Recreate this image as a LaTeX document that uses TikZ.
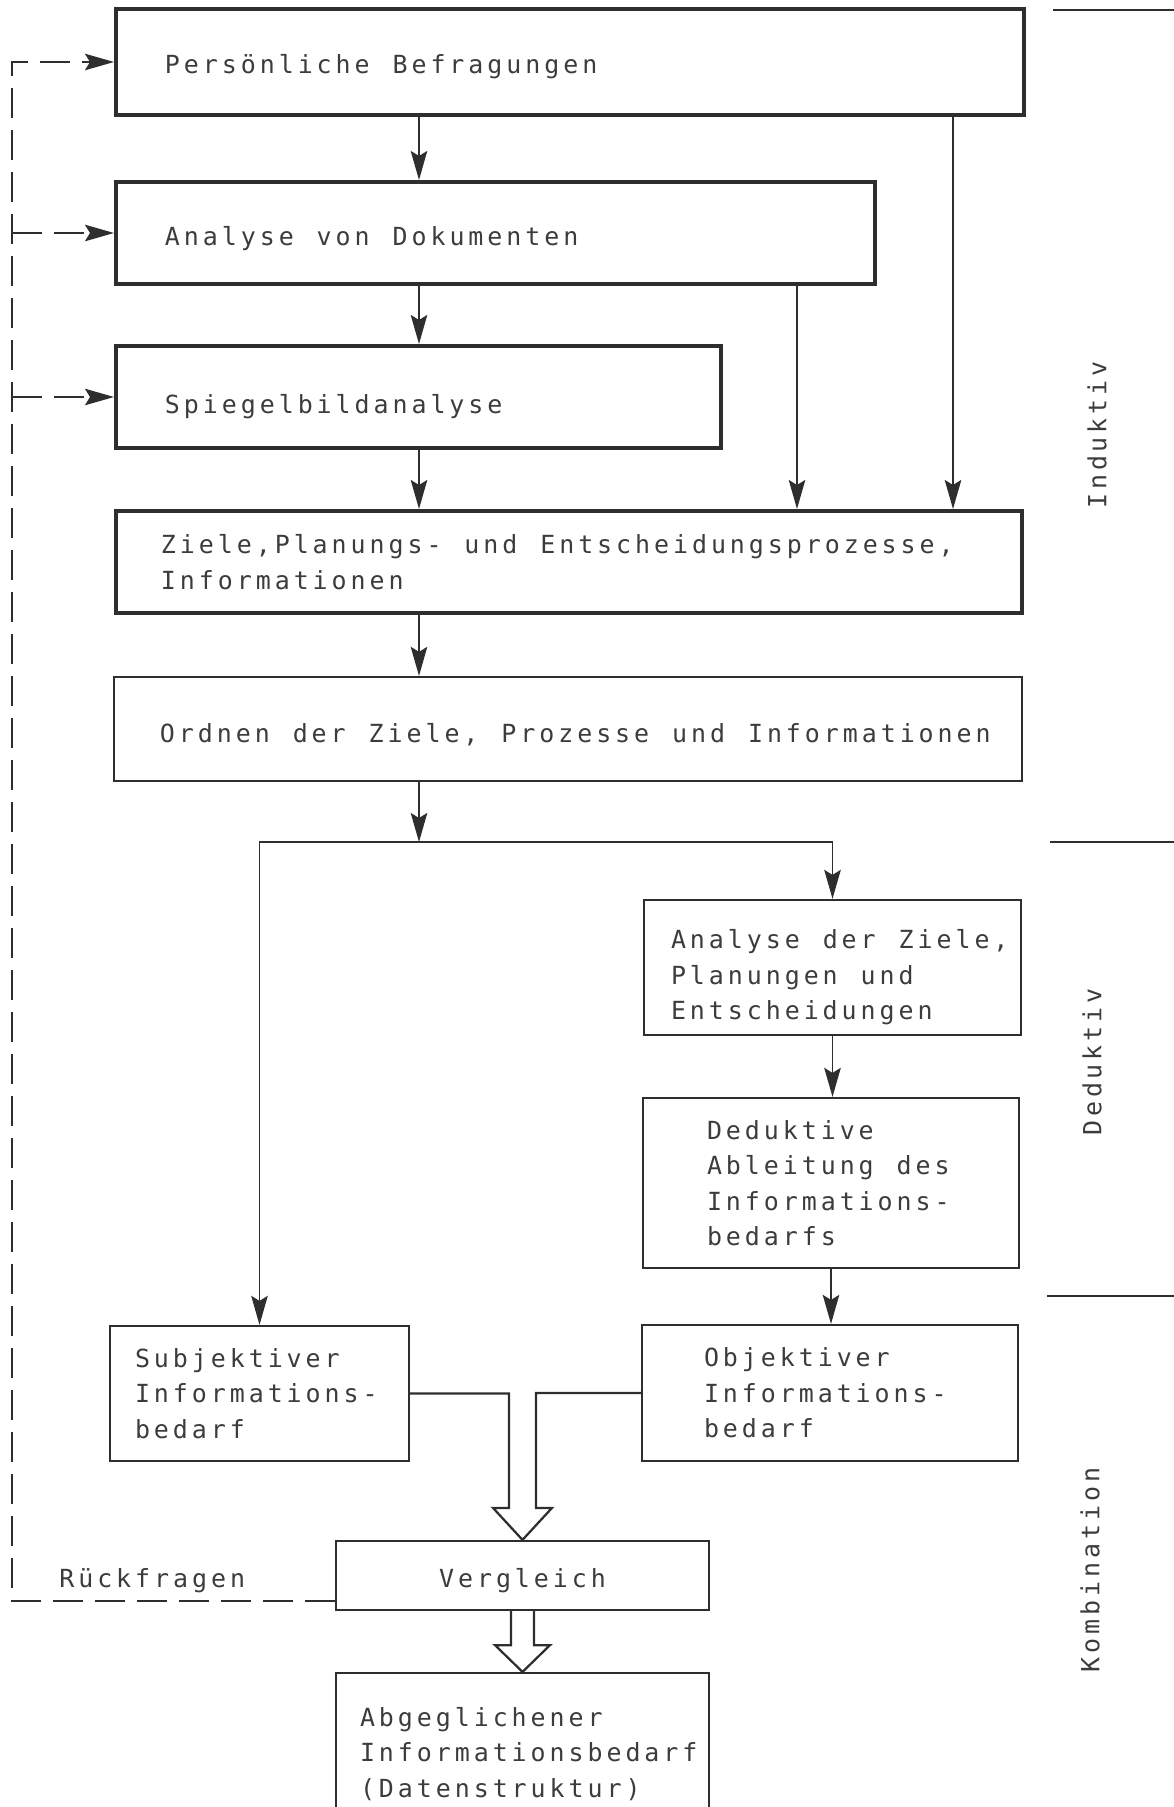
\documentclass[tikz,border=0pt]{standalone}
\usepackage{fontspec}
\newfontfamily\scanfont[LetterSpace=15.8,HyphenChar=None]{DejaVu Sans Mono}
\newcommand\gap{\hspace*{13.05pt}}
\usetikzlibrary{arrows.meta,calc}
\definecolor{ink}{HTML}{2E2E2E}
\definecolor{inktext}{HTML}{3C3C3C}

\begin{document}
\begin{tikzpicture}[x=0.2mm,y=-0.2mm,
  every node/.style={text=inktext,font={\fontsize{14.2pt}{20.2pt}\selectfont\scanfont}},
  thickbox/.style={draw=ink,line width=0.8mm,align=left,inner ysep=0pt},
  thinbox/.style={draw=ink,line width=0.45mm,align=left,inner ysep=0pt},
  flow/.style={draw=ink,line width=0.36mm,-{Stealth[length=5.8mm,width=3.3mm,inset=1mm]}},
  back/.style={flow,dash pattern=on 6mm off 2.4mm},
  hollow/.style={draw=ink,line width=0.45mm,line join=miter},
  rule/.style={draw=ink,line width=0.4mm},
  side/.style={rotate=90,inner sep=0pt}]
\useasboundingbox (0,0) rectangle (1174,1807);
\clip (0,0) rectangle (1174,1807);

% induktive Schritte
\node[thickbox,minimum width=181.6mm,minimum height=21.2mm,inner xsep=9.8mm,text width=162mm,text height=16.4pt,text depth=3.3pt] (pers) at (570,62) {Persönliche\gap Befragungen};
\node[thickbox,minimum width=151.8mm,minimum height=20.4mm,inner xsep=9.8mm,text width=132.2mm,text height=17.5pt,text depth=3.3pt] (dok) at (495.5,233) {Analyse\gap von\gap Dokumenten};
\node[thickbox,minimum width=121mm,minimum height=20.4mm,inner xsep=9.8mm,text width=101.4mm,text height=22pt,text depth=3.3pt] (spb) at (418.5,397) {Spiegelbildanalyse};
\node[thickbox,minimum width=181.2mm,minimum height=20.4mm,inner xsep=9mm,text width=163.2mm] (ziele) at (569,562) {Ziele,Planungs-\gap und\gap Entscheidungsprozesse,\\Informationen};
\node[thinbox,minimum width=181.6mm,minimum height=20.8mm,inner xsep=9.2mm,text width=163.2mm,text height=18.7pt,text depth=3.3pt] (ordnen) at (568,729) {Ordnen\gap der\gap Ziele,\gap Prozesse\gap und\gap Informationen};

% deduktive Schritte
\node[thinbox,minimum width=75.4mm,minimum height=27mm,inner xsep=5.4mm,text width=64.6mm,text height=22.2pt] (anz) at (832.5,967.5) {Analyse\gap der\gap Ziele,\\Planungen\gap und\\Entscheidungen};
\node[thinbox,minimum width=75.2mm,minimum height=34mm,inner xsep=12.8mm,text width=49.6mm] (ded) at (831,1183) {Deduktive\\Ableitung\gap des\\Informations-\\bedarfs};

% Kombination
\node[thinbox,minimum width=59.8mm,minimum height=27mm,inner xsep=5mm,text width=49.8mm] (subj) at (259.5,1393.5) {Subjektiver\\Informations-\\bedarf};
\node[thinbox,minimum width=75.2mm,minimum height=27.2mm,inner xsep=12.4mm,text width=50.4mm] (obj) at (830,1393) {Objektiver\\Informations-\\bedarf};
\node[draw=ink,line width=0.45mm,minimum width=74.6mm,minimum height=13.8mm,inner ysep=0pt,text height=17.5pt,text depth=3.3pt] (vgl) at (522.5,1575.5) {Vergleich};
\node[thinbox,minimum width=74.6mm,minimum height=32.4mm,inner xsep=4.8mm,text width=65mm] (abg) at (522.5,1754) {Abgeglichener\\Informationsbedarf\\(Datenstruktur)};
\node[anchor=base west,inner sep=0pt] (rueck) at (59,1587) {Rückfragen};

% Seitenbeschriftung
\node[side] (ind) at (1097,435) {Induktiv};
\node[side] (dedlab) at (1092,1062) {Deduktiv};
\node[side] (kombi) at (1090,1570) {Kombination};
\draw[rule] (1053,9.6) -- (1174,9.6);
\draw[rule] (1050,842) -- (1174,842);
\draw[rule] (1047,1296) -- (1174,1296);

% Pfeile
\coordinate (col) at (419,0);
\coordinate (r1) at (953,0);
\coordinate (r2) at (797,0);
\coordinate (split) at (419,842);
\coordinate (fbx) at (12,0);
\draw[flow] (col |- pers.south) -- (col |- dok.north);
\draw[flow] (col |- dok.south) -- (col |- spb.north);
\draw[flow] (col |- spb.south) -- (col |- ziele.north);
\draw[flow] (r1 |- pers.south) -- (r1 |- ziele.north);
\draw[flow] (r2 |- dok.south) -- (r2 |- ziele.north);
\draw[flow] (col |- ziele.south) -- (col |- ordnen.north);
\draw[flow] (col |- ordnen.south) -- (split);
\draw[flow] (split) -| (subj.north);
\draw[flow] (split) -| (anz.north);
\draw[flow] (anz.south) -- (anz.south |- ded.north);
\draw[flow] (ded.south) -- (ded.south |- obj.north);

% Blockpfeile
\draw[hollow] (subj.east) -| ($(vgl.north)+(-13.5,-32)$) -- ++(-16,0) -- (vgl.north) -- ($(vgl.north)+(29.5,-32)$) -- ++(-16,0) |- (obj.west);
\draw[hollow] ($(vgl.south)+(-11.5,0)$) -- ++(0,34) -- ++(-16,0) -- (abg.north) -- ($(vgl.south)+(27.5,34)$) -- ++(-16,0) -- ++(0,-34);

% Rueckfragen
\draw[back] ($(vgl.south west)+(0,-10)$) -| (fbx |- pers.west) -- (pers.west);
\draw[back] (fbx |- dok.west) -- (dok.west);
\draw[back] (fbx |- spb.west) -- (spb.west);
\end{tikzpicture}
\end{document}
